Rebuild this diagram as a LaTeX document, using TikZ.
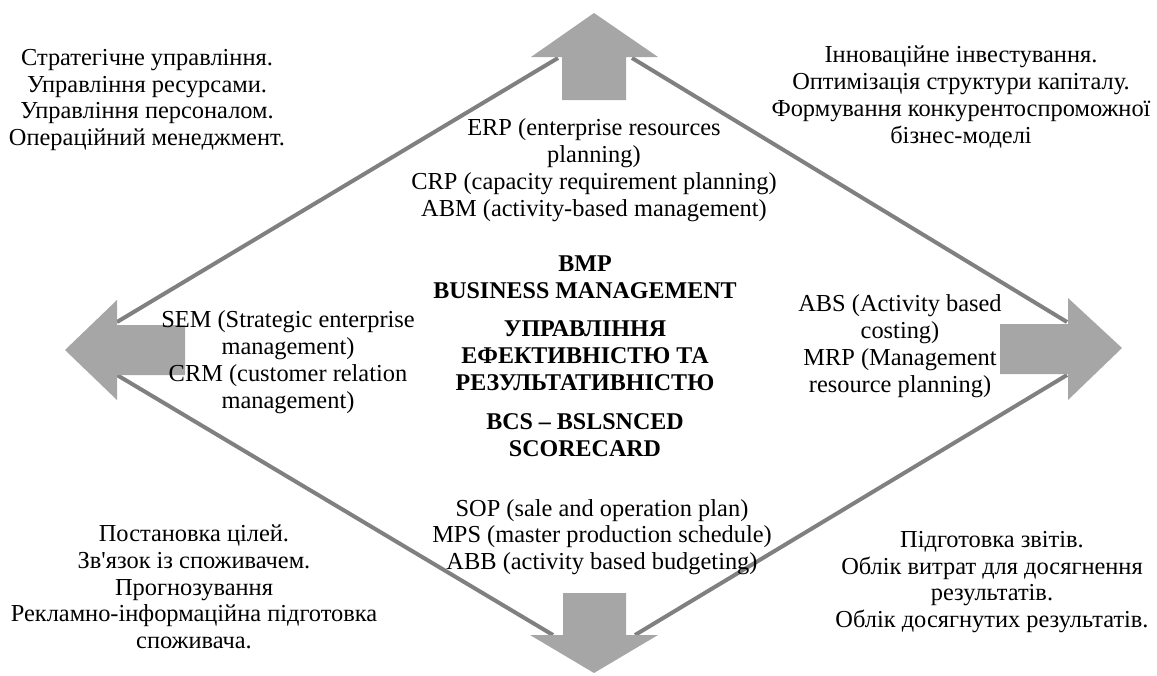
\documentclass[tikz,border=0pt]{standalone}
\usepackage{fontspec}
\IfFontExistsTF{Liberation Serif Bold}
  {\setmainfont{Liberation Serif}[BoldFont={Liberation Serif Bold}]}
  {\setmainfont{Liberation Serif}}
\definecolor{linegray}{HTML}{808080}
\definecolor{arrowgray}{HTML}{A6A6A6}

\begin{document}
\begin{tikzpicture}[x=0.5pt,y=-0.5pt,
  txt/.style={align=center,inner sep=0pt,font=\fontsize{12.2}{13.4}\selectfont},
  core/.style={align=center,inner sep=0pt,font=\fontsize{12}{13.4}\selectfont\bfseries}]
  \useasboundingbox (0,0) rectangle (1157,675);

% ends of the diamond sides
\coordinate (ntl) at (558,58);
\coordinate (ntr) at (632,58);
\coordinate (wt) at (117,322);
\coordinate (wb) at (117,375);
\coordinate (et) at (1067,322);
\coordinate (eb) at (1067,375);
\coordinate (sl) at (553,635);
\coordinate (sr) at (635,635);

\draw[linegray,line width=2pt] (ntl)--(wt);
\draw[linegray,line width=2pt] (ntr)--(et);
\draw[linegray,line width=2pt] (wb)--(sl);
\draw[linegray,line width=2pt] (eb)--(sr);

% four block arrows
\fill[arrowgray] (562,100)--(562,57)--(531,57)--(594,13)--(658,57)--(626,57)--(626,100)--cycle;
\fill[arrowgray] (185,325)--(117,325)--(117,300)--(65,350)--(117,400)--(117,375)--(185,375)--cycle;
\fill[arrowgray] (1000,324)--(1068,324)--(1068,298)--(1122,348)--(1068,400)--(1068,374)--(1000,374)--cycle;
\fill[arrowgray] (563,593)--(563,635)--(530,635)--(594,673)--(658,635)--(626,635)--(626,593)--cycle;

\node[txt] (tl) at (147,100) {Стратегічне управління.\\Управління ресурсами.\\Управління персоналом.\\Операційний менеджмент.};
\node[txt] (tr) at (961,97) {Інноваційне інвестування.\\Оптимізація структури капіталу.\\Формування конкурентоспроможної\\бізнес-моделі};
\node[txt] (erp) at (594,170) {ERP (enterprise resources\\planning)\\CRP (capacity requirement planning)\\ABM (activity-based management)};
\node[txt] (sem) at (288,362) {SEM (Strategic enterprise\\management)\\CRM (customer relation\\management)};
\node[txt] (abs) at (900,346) {ABS (Activity based\\costing)\\MRP (Management\\resource planning)};
\node[txt] (sop) at (602,537) {SOP (sale and operation plan)\\MPS (master production schedule)\\ABB (activity based budgeting)};
\node[txt] (bl) at (194,587) {Постановка цілей.\\Зв\textquotesingle язок із споживачем.\\Прогнозування\\Рекламно-інформаційна підготовка\\споживача.};
\node[txt] (br) at (992,582) {Підготовка звітів.\\Облік витрат для досягнення\\результатів.\\Облік досягнутих результатів.};

\node[core] (bmp) at (585,356) {BMP\\BUSINESS MANAGEMENT\\[6pt]УПРАВЛІННЯ\\ЕФЕКТИВНІСТЮ ТА\\РЕЗУЛЬТАТИВНІСТЮ\\[6pt]BCS -- BSLSNCED\\SCORECARD};

\end{tikzpicture}
\end{document}
